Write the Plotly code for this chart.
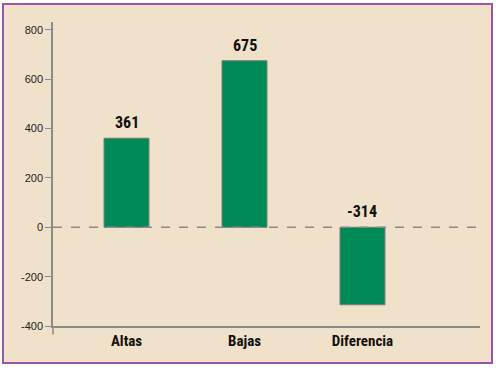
import plotly.graph_objects as go

categories = ["Altas", "Bajas", "Diferencia"]
values = [361, 675, -314]
value_labels = ["361", "675", "-314"]
y_ticks = [-400, -200, 0, 200, 400, 600, 800]
y_tick_labels = ["-400", "-200", "0", "200", "400", "600", "800"]

green = "#008a58"
bg = "#f0e1cb"
purple = "#9b55a8"
gray = "#8a8a8a"
cond = "Roboto Condensed, Liberation Sans"

fig = go.Figure()
fig.add_trace(go.Bar(
    x=categories, y=values, width=0.381,
    marker=dict(color=green, line=dict(color="#7a7a7a", width=1)),
    hoverinfo="skip",
))

for c, v, t in zip(categories, values, value_labels):
    fig.add_annotation(x=c, y=max(v, 0), text=t, showarrow=False,
                       yanchor="bottom", yshift=4,
                       font=dict(family=cond, size=16, color="#111", weight="bold"))

# background panel with purple border
fig.add_shape(type="rect", xref="paper", yref="paper",
              x0=-0.1171, x1=1.0281, y0=-0.1217, y1=1.0592,
              fillcolor=bg, line=dict(color=purple, width=2), layer="below")
# zero dashed line
fig.add_shape(type="line", xref="paper", yref="y", x0=0, x1=0.995, y0=0, y1=0,
              line=dict(color=gray, width=1.5, dash="dash"), layer="above")
# y-axis line extension below x axis
fig.add_shape(type="line", xref="paper", yref="paper", x0=0, x1=0, y0=0, y1=-0.028,
              line=dict(color=gray, width=1.5))

fig.update_layout(
    width=496, height=368,
    margin=dict(l=53, r=16, t=22, b=42),
    paper_bgcolor="white", plot_bgcolor="rgba(0,0,0,0)",
    showlegend=False,
    font=dict(family="Liberation Sans, Arial", size=11, color="#222"),
    xaxis=dict(range=[-0.623, 2.996], showline=True, linecolor=gray, linewidth=1.5,
               showgrid=False, zeroline=False, ticks="",
               tickfont=dict(family=cond, size=15, color="#111", weight="bold")),
    yaxis=dict(range=[-400, 832], tickvals=y_ticks, ticktext=y_tick_labels,
               showline=True, linecolor=gray,
               linewidth=1.5, ticks="outside", ticklen=6, tickcolor=gray,
               showgrid=False, zeroline=False, tickfont=dict(size=11, color="#222")),
)

fig.write_html("out.html", post_script="document.body.style.margin='0';",
               config={"displayModeBar": False})
